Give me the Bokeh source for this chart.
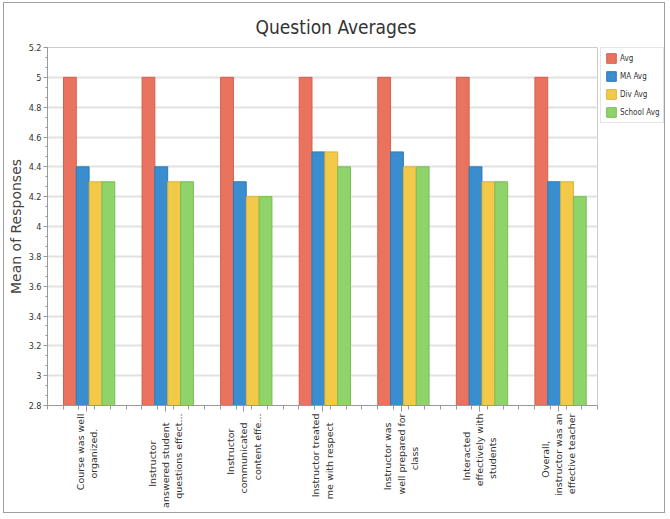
from bokeh.plotting import figure
from bokeh.models import ColumnDataSource, Legend, LegendItem, FixedTicker, Range1d
from bokeh.layouts import row
from bokeh.embed import file_html
from bokeh.resources import INLINE
from bokeh.transform import dodge
import math

questions = [
    "Course was well\norganized.",
    "Instructor\nanswered student\nquestions effect...",
    "Instructor\ncommunicated\ncontent effe...",
    "Instructor treated\nme with respect",
    "Instructor was\nwell prepared for\nclass",
    "Interacted\neffectively with\nstudents",
    "Overall,\ninstructor was an\neffective teacher",
]
avg = [5, 5, 5, 5, 5, 5, 5]
ma_avg = [4.4, 4.4, 4.3, 4.5, 4.5, 4.4, 4.3]
div_avg = [4.3, 4.3, 4.2, 4.5, 4.4, 4.3, 4.3]
school_avg = [4.3, 4.3, 4.2, 4.4, 4.4, 4.3, 4.2]
series_names = ["Avg", "MA Avg", "Div Avg", "School Avg"]
colors = ["#E9735F", "#3A8ED0", "#F3C94A", "#8FD46B"]
edge = ["#D5604C", "#2E7BB8", "#DDB23A", "#78BD55"]

COND = "DejaVu Sans Condensed"


def centre_lines(label):
    # pad shorter lines so the rotated lines sit centred on one another
    lines = label.split("\n")
    longest = max(len(s) for s in lines)
    return "\n".join(s + "\u00a0" * int(round((longest - len(s)) * 0.95)) for s in lines)


pos = [i + 0.5 for i in range(len(questions))]
src = ColumnDataSource(dict(x=pos, avg=avg, ma=ma_avg, div=div_avg, school=school_avg))

p = figure(width=595, height=509, output_backend="svg", toolbar_location=None,
           x_range=Range1d(0, len(questions)), y_range=Range1d(2.8, 5.2),
           title="Question Averages",
           min_border_left=36, min_border_right=2, min_border_top=44, min_border_bottom=107)
p.title.align = "left"
p.title.offset = 208
p.title.standoff = 20
p.title.text_font = COND
p.title.text_font_size = "19px"
p.title.text_font_style = "normal"
p.title.text_color = "#333333"

bw = 0.163
offs = [-0.245, -0.082, 0.082, 0.245]
fields = ["avg", "ma", "div", "school"]
for f, o, c, e in zip(fields, offs, colors, edge):
    p.vbar(x=dodge("x", o + 0.03, range=p.x_range), top=f, bottom=2.8, width=bw,
           source=src, fill_color=c, line_color=e, line_width=1)

p.xaxis.ticker = FixedTicker(ticks=pos, minor_ticks=[k * 0.2 for k in range(36)])
p.xaxis.major_label_overrides = {v: centre_lines(q) for v, q in zip(pos, questions)}
p.xaxis.major_label_orientation = math.pi / 2
p.xaxis.major_label_text_font = "DejaVu Sans"
p.xaxis.major_label_text_font_size = "9.5px"
p.xaxis.major_label_text_color = "#333333"
p.xaxis.major_label_standoff = 2
p.xaxis.major_tick_out = 6
p.xaxis.major_tick_in = 0
p.xaxis.minor_tick_out = 4
p.xaxis.minor_tick_in = 0

p.yaxis.ticker = FixedTicker(ticks=[2.8 + 0.2 * k for k in range(13)],
                             minor_ticks=[2.8 + 0.2 * k / 3 for k in range(37)])
p.yaxis.major_label_overrides = {2.8 + 0.2 * k: ("%g" % round(2.8 + 0.2 * k, 1)) for k in range(13)}
p.yaxis.axis_label = "Mean of Responses"
p.yaxis.axis_label_text_font = "DejaVu Sans"
p.yaxis.axis_label_text_font_size = "14px"
p.yaxis.axis_label_text_font_style = "normal"
p.yaxis.axis_label_text_color = "#444444"
p.yaxis.axis_label_standoff = 2
p.yaxis.major_label_text_font = COND
p.yaxis.major_label_text_font_size = "9px"
p.yaxis.major_label_text_color = "#333333"
p.yaxis.major_label_standoff = 2
p.yaxis.major_tick_out = 4
p.yaxis.major_tick_in = 0
p.yaxis.minor_tick_out = 2
p.yaxis.minor_tick_in = 0

for ax in (p.xaxis, p.yaxis):
    ax.axis_line_color = "#999999"
    ax.major_tick_line_color = "#999999"
    ax.minor_tick_line_color = "#999999"

p.xgrid.grid_line_color = None
p.ygrid.ticker = FixedTicker(ticks=[2.8 + 0.2 * k for k in range(13)])
p.ygrid.grid_line_color = "#e2e2e2"
p.ygrid.grid_line_width = 2
p.outline_line_color = "#cccccc"
p.background_fill_color = "white"
p.border_fill_color = "white"

# legend in its own narrow panel to the right of the plot
lg = figure(width=65, height=509, output_backend="svg", toolbar_location=None,
            x_axis_type=None, y_axis_type=None, x_range=Range1d(0, 1), y_range=Range1d(0, 1),
            min_border_left=1, min_border_right=0, min_border_top=43, min_border_bottom=0)
lg.grid.visible = False
lg.outline_line_color = None
lg.background_fill_color = "white"
lg.border_fill_color = "white"
# legend-only renderers, placed outside the visible range of this panel
dummies = [lg.vbar(x=[5], top=[0.5], width=0.1, fill_color=c, line_color=e)
           for c, e in zip(colors, edge)]
legend = Legend(items=[LegendItem(label=n, renderers=[r]) for n, r in zip(series_names, dummies)],
                location="top_left", margin=0, label_text_font=COND,
                label_text_font_size="8px", label_text_color="#333333",
                glyph_width=12, glyph_height=12, spacing=6, padding=4, label_height=12,
                label_standoff=3, border_line_color="#cccccc")
lg.add_layout(legend)

layout = row(p, lg, spacing=0,
             styles={"border": "1px solid #a0a0a0", "margin-left": "3px", "margin-top": "2px"})
open("out.html", "w").write(file_html(layout, INLINE))
